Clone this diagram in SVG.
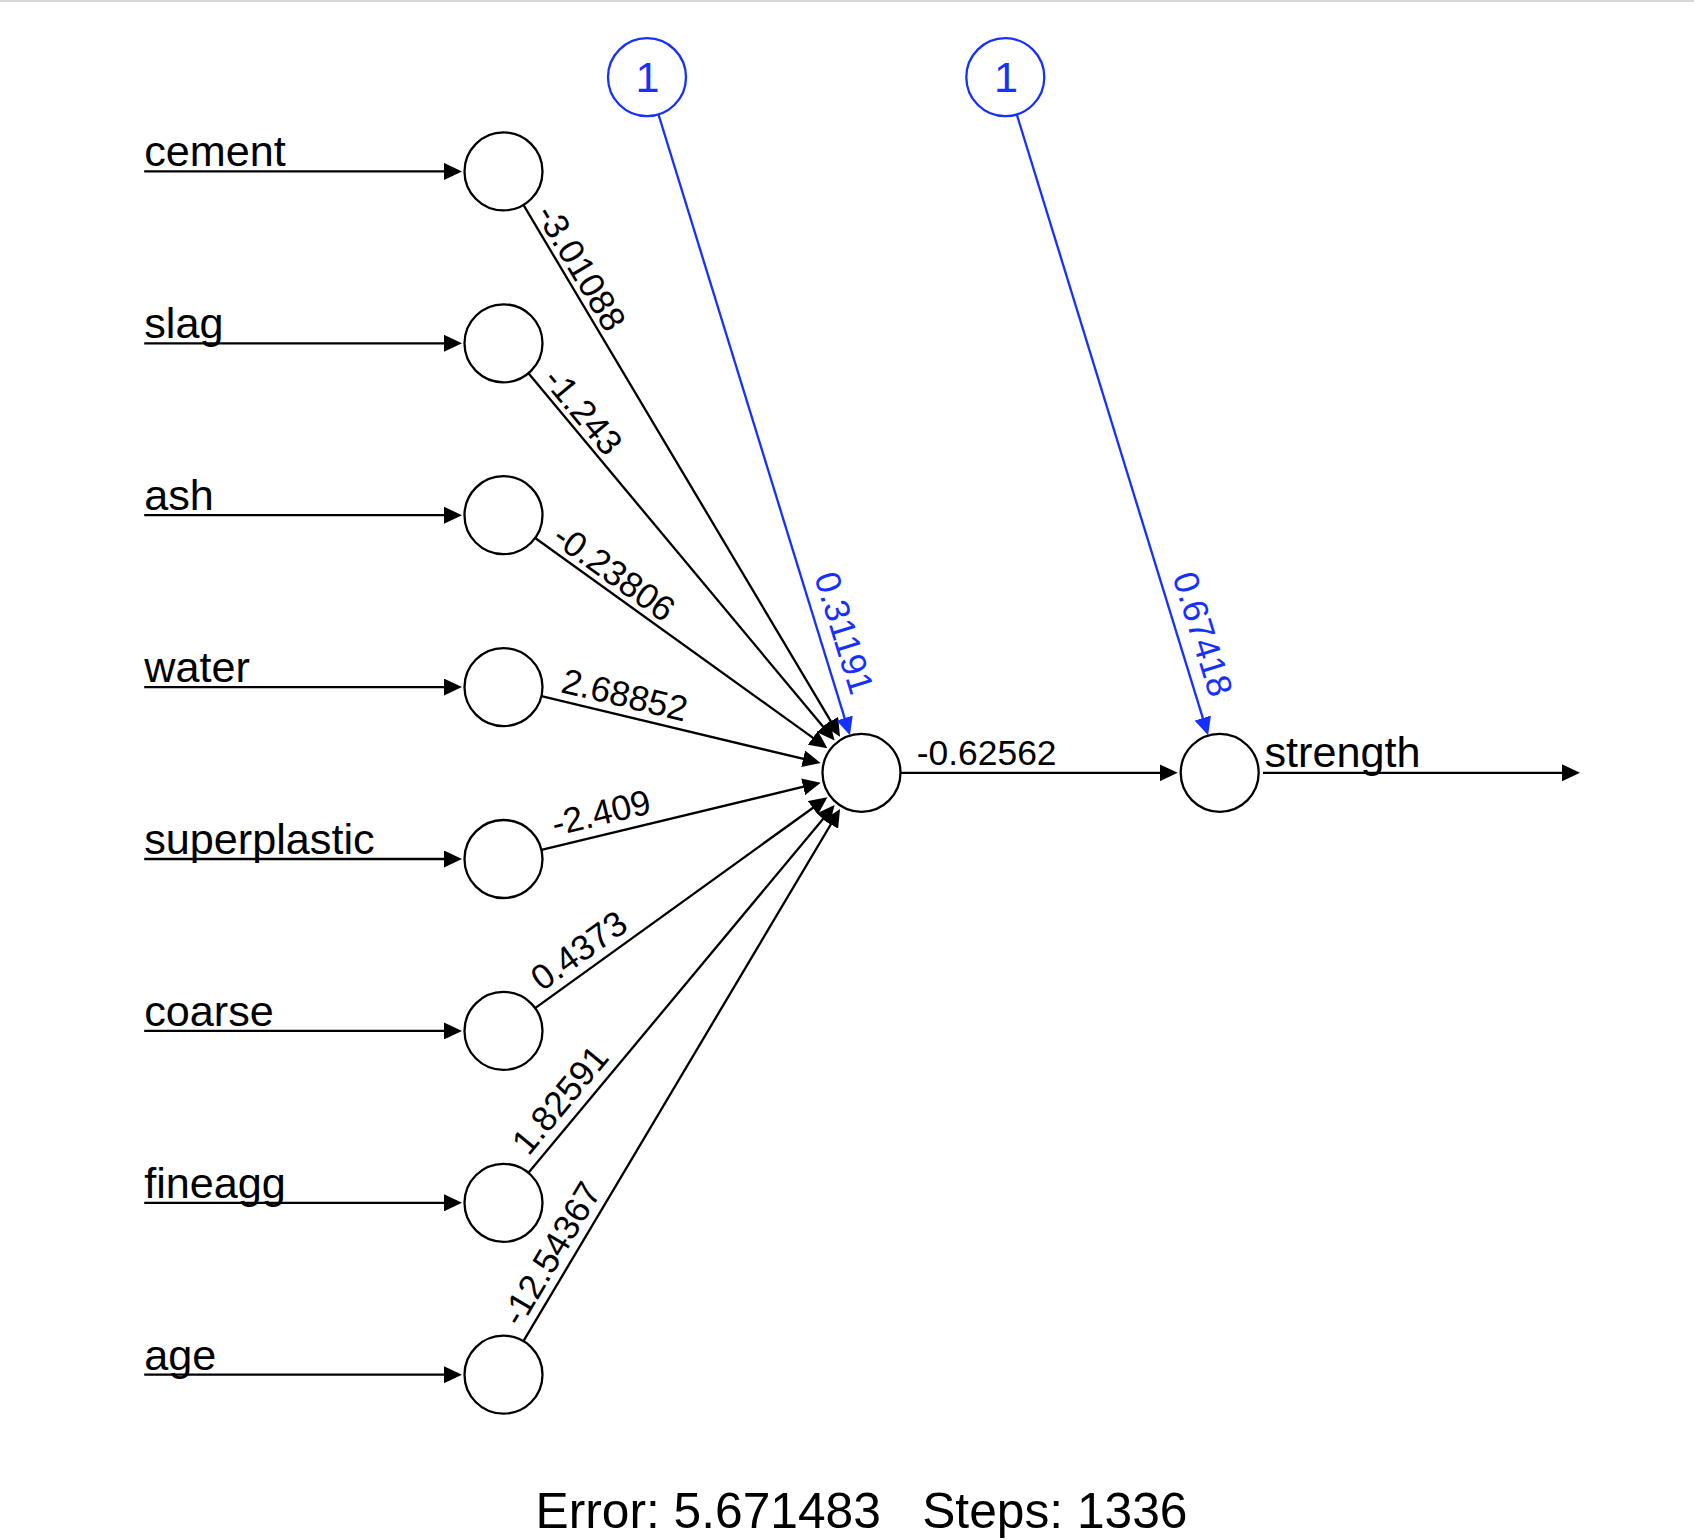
<svg xmlns="http://www.w3.org/2000/svg" width="1694" height="1540" viewBox="0 0 1694 1540">
<style>
.n{fill:#fff;stroke:#000;stroke-width:2.3}
.b{fill:#fff;stroke:#1530ff;stroke-width:2.3}
.c{stroke:#000;stroke-width:2.3;fill:none;marker-end:url(#ah)}
.cb{stroke:#1530ff;stroke-width:2.3;fill:none;marker-end:url(#ahb)}
.lbl{font-family:"Liberation Sans",Arial,sans-serif;font-size:43.2px;fill:#000}
.w{font-family:"Liberation Sans",Arial,sans-serif;font-size:35.4px;fill:#000}
.wb{font-family:"Liberation Sans",Arial,sans-serif;font-size:35.4px;fill:#1530ff}
.bt{font-family:"Liberation Sans",Arial,sans-serif;font-size:43.2px;fill:#1530ff;text-anchor:middle}
.t{font-family:"Liberation Sans",Arial,sans-serif;font-size:49.7px;fill:#000;text-anchor:middle;white-space:pre}
</style>
<defs>
<marker id="ah" markerUnits="userSpaceOnUse" markerWidth="18" markerHeight="17" viewBox="0 0 18 17" refX="8" refY="8.5" orient="auto"><path d="M0,0 L18,8.5 L0,17 z" fill="#000"/></marker>
<marker id="ahb" markerUnits="userSpaceOnUse" markerWidth="18" markerHeight="17" viewBox="0 0 18 17" refX="8" refY="8.5" orient="auto"><path d="M0,0 L18,8.5 L0,17 z" fill="#1530ff"/></marker>
</defs>
<rect x="0" y="0" width="1694" height="1540" fill="#fff"/>
<rect x="0" y="0" width="1694" height="2" fill="#d8d8d8"/>
<g id="connectors">
<line class="c" x1="144.2" y1="171.4" x2="452" y2="171.4"/>
<line class="c" x1="144.2" y1="343.3" x2="452" y2="343.3"/>
<line class="c" x1="144.2" y1="515.2" x2="452" y2="515.2"/>
<line class="c" x1="144.2" y1="687.1" x2="452" y2="687.1"/>
<line class="c" x1="144.2" y1="859.0" x2="452" y2="859.0"/>
<line class="c" x1="144.2" y1="1030.9" x2="452" y2="1030.9"/>
<line class="c" x1="144.2" y1="1202.8" x2="452" y2="1202.8"/>
<line class="c" x1="144.2" y1="1374.7" x2="452" y2="1374.7"/>
<line class="c" x1="523.45" y1="204.91" x2="834.90" y2="728.12"/>
<line class="c" x1="528.47" y1="373.26" x2="828.21" y2="732.86"/>
<line class="c" x1="535.16" y1="537.98" x2="819.29" y2="742.43"/>
<line class="c" x1="541.43" y1="696.18" x2="810.93" y2="760.69"/>
<line class="c" x1="541.42" y1="849.87" x2="810.95" y2="784.97"/>
<line class="c" x1="535.14" y1="1008.09" x2="819.32" y2="803.21"/>
<line class="c" x1="528.45" y1="1172.83" x2="828.23" y2="812.77"/>
<line class="c" x1="523.44" y1="1341.18" x2="834.92" y2="817.50"/>
<line class="cb" x1="658.49" y1="114.47" x2="846.97" y2="725.68"/>
<line class="cb" x1="1016.79" y1="114.47" x2="1205.17" y2="725.68"/>
<line class="c" x1="900.5" y1="772.8" x2="1167.7" y2="772.8"/>
<line class="c" x1="1263" y1="772.8" x2="1570" y2="772.8"/>
<text class="w" transform="translate(534.9,213.8) rotate(59.24)">-3.01088</text>
<text class="w" transform="translate(541.67,380.49) rotate(50.19)">-1.243</text>
<text class="w" transform="translate(550.43,541.58) rotate(35.74)">-0.23806</text>
<text class="w" transform="translate(559.73,691.92) rotate(13.46)">2.68852</text>
<text class="w" transform="translate(555.12,836.29) rotate(-13.54)">-2.409</text>
<text class="w" transform="translate(542.04,992.02) rotate(-35.79)">0.4373</text>
<text class="w" transform="translate(528.4,1156.65) rotate(-50.22)">1.82591</text>
<text class="w" transform="translate(520.8,1328.21) rotate(-59.26)">-12.54367</text>
<text class="wb" transform="translate(814,576.6) rotate(72.86)">0.31191</text>
<text class="wb" transform="translate(1172.3,576.6) rotate(72.86)">0.67418</text>
<text class="w" x="916.8" y="765.4">-0.62562</text>
</g>
<g id="in-cement"><circle class="n" cx="503.5" cy="171.4" r="39"/><text class="lbl" x="144.2" y="166.4">cement</text></g>
<g id="in-slag"><circle class="n" cx="503.5" cy="343.3" r="39"/><text class="lbl" x="144.2" y="338.3">slag</text></g>
<g id="in-ash"><circle class="n" cx="503.5" cy="515.2" r="39"/><text class="lbl" x="144.2" y="510.2">ash</text></g>
<g id="in-water"><circle class="n" cx="503.5" cy="687.1" r="39"/><text class="lbl" x="144.2" y="682.1">water</text></g>
<g id="in-superplastic"><circle class="n" cx="503.5" cy="859.0" r="39"/><text class="lbl" x="144.2" y="854.0">superplastic</text></g>
<g id="in-coarse"><circle class="n" cx="503.5" cy="1030.9" r="39"/><text class="lbl" x="144.2" y="1025.9">coarse</text></g>
<g id="in-fineagg"><circle class="n" cx="503.5" cy="1202.8" r="39"/><text class="lbl" x="144.2" y="1197.8">fineagg</text></g>
<g id="in-age"><circle class="n" cx="503.5" cy="1374.7" r="39"/><text class="lbl" x="144.2" y="1369.7">age</text></g>
<g id="bias1"><circle class="b" cx="647" cy="77.2" r="39"/><text class="bt" x="647.5" y="92.3">1</text></g>
<g id="bias2"><circle class="b" cx="1005.3" cy="77.2" r="39"/><text class="bt" x="1006" y="92.3">1</text></g>
<g id="hidden"><circle class="n" cx="861.5" cy="772.8" r="39"/></g>
<g id="output"><circle class="n" cx="1219.7" cy="772.8" r="39"/><text class="lbl" x="1264.5" y="766.5">strength</text></g>
<text class="t" x="861.5" y="1528" xml:space="preserve">Error: 5.671483   Steps: 1336</text>
</svg>
